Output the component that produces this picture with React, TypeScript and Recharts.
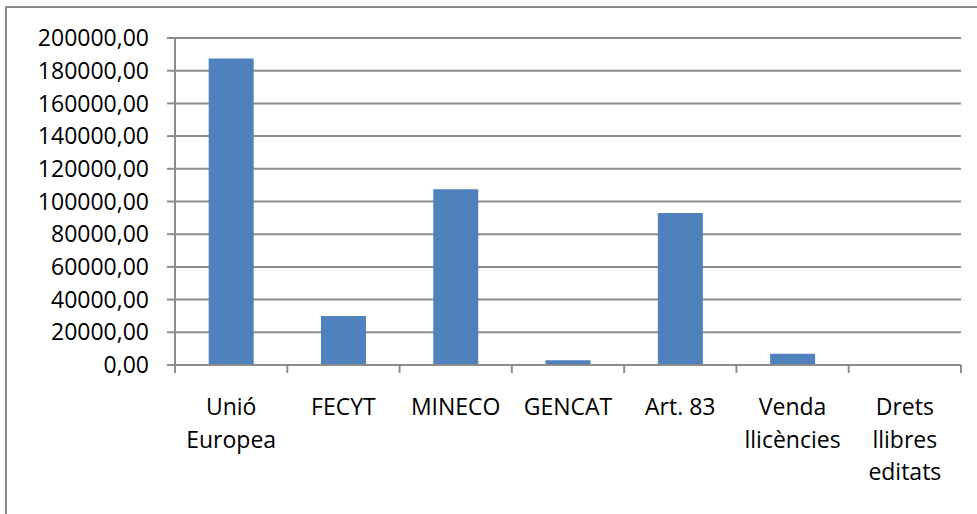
import { Bar, BarChart, CartesianGrid, XAxis, YAxis } from "recharts"

const categories = [
  "Unió Europea",
  "FECYT",
  "MINECO",
  "GENCAT",
  "Art. 83",
  "Venda llicències",
  "Drets llibres editats",
]
// how each category label is broken over lines under the axis
const categoryLines = [
  ["Unió", "Europea"],
  ["FECYT"],
  ["MINECO"],
  ["GENCAT"],
  ["Art. 83"],
  ["Venda", "llicències"],
  ["Drets", "llibres", "editats"],
]
const amounts = [187400, 30000, 107500, 2900, 93000, 6900, 0]
const yTicks = [0, 20000, 40000, 60000, 80000, 100000, 120000, 140000, 160000, 180000, 200000]

const data = categories.map((name, i) => ({ name, value: amounts[i] }))

const font = "'Open Sans', sans-serif"
const fontSize = 23
const gray = "#8c8c8c"

const formatEuro = (v: number) => v.toFixed(2).replace(".", ",")

// label plus Excel-style tick marks on the category boundaries
function CategoryTick(props: any) {
  const { x, y, payload, index } = props
  const half = payload.offset ?? 0
  const lines = categoryLines[categories.indexOf(payload.value)] ?? [payload.value]
  const isLast = index === categories.length - 1
  return (
    <g>
      <line x1={x - half} x2={x - half} y1={y} y2={y + 8} stroke={gray} strokeWidth={2} />
      {isLast && <line x1={x + half} x2={x + half} y1={y} y2={y + 8} stroke={gray} strokeWidth={2} />}
      <text x={x} y={y + 50} textAnchor="middle" fill="#000" fontFamily={font} fontSize={fontSize}>
        {lines.map((line, i) => (
          <tspan key={i} x={x} dy={i === 0 ? 0 : 32.5}>
            {line}
          </tspan>
        ))}
      </text>
    </g>
  )
}

export default function App() {
  return (
    <div style={{ position: "absolute", left: 0, top: 0, width: 977, height: 514, overflow: "hidden", background: "#fff" }}>
      <div
        style={{
          position: "absolute",
          left: 5,
          top: 6,
          width: 990,
          height: 530,
          border: `2px solid ${gray}`,
          boxSizing: "border-box",
        }}
      />
      <div style={{ position: "absolute", left: 0, top: 0 }}>
        <BarChart
          width={977}
          height={514}
          data={data}
          barCategoryGap="30%"
          margin={{ top: 38, right: 16, bottom: 0, left: 0 }}
        >
          <CartesianGrid vertical={false} stroke={gray} strokeWidth={2} />
          <XAxis
            dataKey="name"
            height={149}
            tickLine={false}
            axisLine={{ stroke: gray, strokeWidth: 2 }}
            tickSize={0}
            tickMargin={0}
            interval={0}
            tick={<CategoryTick />}
          />
          <YAxis
            width={175}
            domain={[0, 200000]}
            ticks={yTicks}
            tickFormatter={formatEuro}
            tickSize={8}
            tickMargin={18}
            tickLine={{ stroke: gray, strokeWidth: 2 }}
            axisLine={{ stroke: gray, strokeWidth: 2 }}
            tick={{ fill: "#000", fontFamily: font, fontSize }}
            interval={0}
          />
          <Bar dataKey="value" fill="#4F81BD" isAnimationActive={false} />
        </BarChart>
      </div>
    </div>
  )
}
